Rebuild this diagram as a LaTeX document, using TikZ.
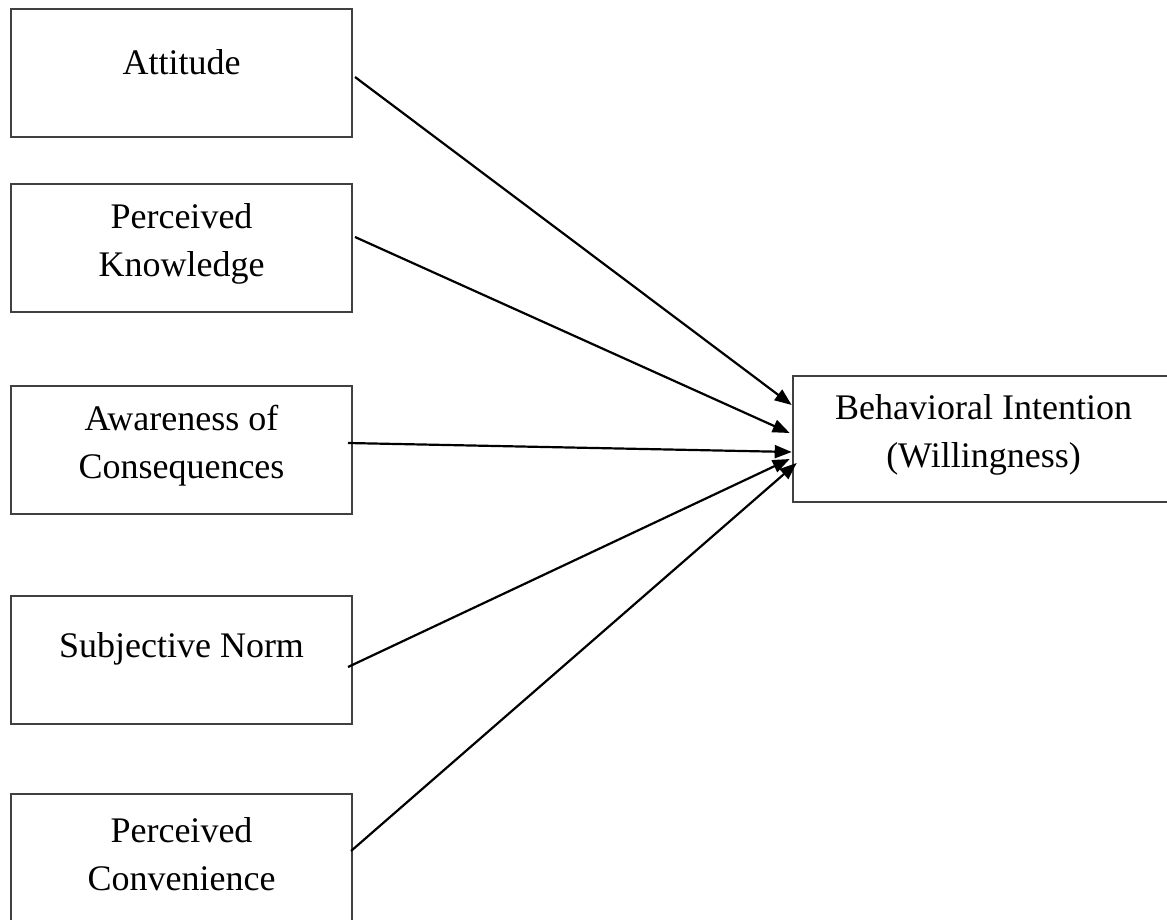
\documentclass[tikz,border=0pt]{standalone}
\usepackage{fontspec}
\setmainfont{Liberation Serif}
\usetikzlibrary{arrows.meta, calc}

\begin{document}
\begin{tikzpicture}[x=0.5pt, y=-0.5pt,
    factor/.style={draw=black!75, line width=1pt, minimum width=170.5pt, minimum height=64pt, inner sep=0pt},
    txt/.style={align=center, font=\fontsize{18}{24}\selectfont, yshift=#1},
    txt/.default=5.5pt,
    arr/.style={-{Triangle[length=8.5pt, width=6.5pt]}, line width=1.1pt}]
    \useasboundingbox (0,0) rectangle (1167,920);
    % Predictors
    \node[factor, label={[txt]center:Attitude}] (att) at (181.5,73) {};
    \node[factor, label={[txt=2pt]center:Perceived\\Knowledge}] (know) at (181.5,247.5) {};
    \node[factor, label={[txt=2pt]center:Awareness of\\Consequences}] (aware) at (181.5,450) {};
    \node[factor, label={[txt]center:Subjective Norm}] (subj) at (181.5,660) {};
    \node[factor, label={[txt=2pt]center:Perceived\\Convenience}] (conv) at (181.5,858) {};
    % Outcome
    \node[factor, minimum width=190.8pt, minimum height=63pt,
        label={[txt=2pt]center:Behavioral Intention\\(Willingness)}] (bi) at (983.5,439) {};
    % Paths
    \draw[arr] ($(att.east)+(2,4)$) -- ($(bi.west)+(0,-34)$);
    \draw[arr] ($(know.east)+(2,-10.5)$) -- ($(bi.west)+(-2,-6)$);
    \draw[arr] ($(aware.east)+(-5,-7)$) -- ($(bi.west)+(0,13)$);
    \draw[arr] ($(subj.east)+(-5,7)$) -- ($(bi.west)+(-2,20)$);
    \draw[arr] ($(conv.east)+(-2,-7)$) -- ($(bi.west)+(5,24)$);
\end{tikzpicture}
\end{document}
